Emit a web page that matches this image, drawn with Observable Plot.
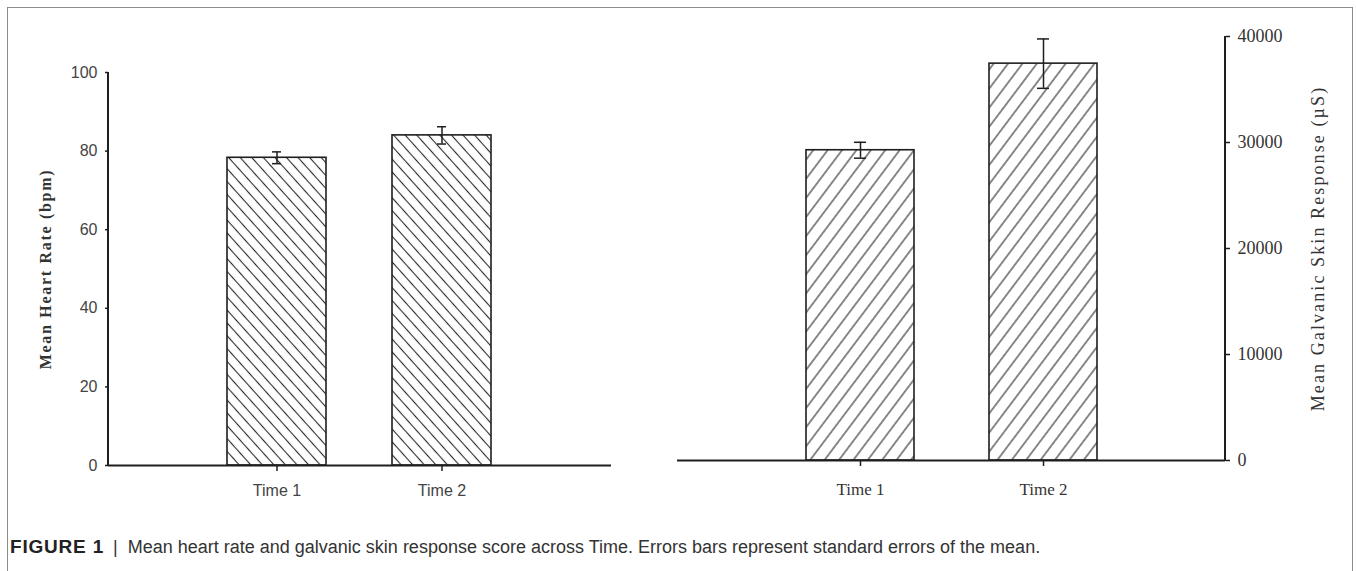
<!DOCTYPE html>
<html>
<head>
<meta charset="utf-8">
<script src="https://cdn.jsdelivr.net/npm/d3@7"></script>
<script src="https://cdn.jsdelivr.net/npm/@observablehq/plot@0.6"></script>
<style>
  html, body { margin: 0; padding: 0; background: #fff; }
  #wrap { position: relative; width: 1356px; height: 571px; overflow: hidden; background: #fff; }
  #frame { position: absolute; left: 7px; top: 7px; width: 1346px; height: 620px; border: 1px solid #8c8c8c; border-bottom: none; box-sizing: border-box; }
  #left { position: absolute; left: 0; top: 0; }
  #right { position: absolute; left: 660px; top: 0; }
  #caption { position: absolute; left: 10px; top: 536px; font-family: "Liberation Sans", Arial, sans-serif; font-size: 18px; color: #333; white-space: nowrap; }
  #caption b { color: #222; font-size: 19px; letter-spacing: 0.8px; }
  #caption .sep { margin: 0 10px 0 9px; }
</style>
</head>
<body>
<div id="wrap">
  <div id="frame"></div>
  <div id="left"></div>
  <div id="right"></div>
  <div id="caption"><b>FIGURE 1</b><span class="sep">|</span>Mean heart rate and galvanic skin response score across Time. Errors bars represent standard errors of the mean.</div>
</div>
<script>
// ---- data ----
const times = ["Time 1", "Time 2"];
const heartRate = [78.3, 84.0];
const heartRateSE = [1.5, 2.2];
const gsr = [29270, 37440];
const gsrSE = [750, 2330];
const hrTicks = [0, 20, 40, 60, 80, 100];
const gsrTicks = [0, 10000, 20000, 30000, 40000];

const hrData = times.map((t, i) => ({time: t, value: heartRate[i], lo: heartRate[i] - heartRateSE[i], hi: heartRate[i] + heartRateSE[i]}));
const gsrData = times.map((t, i) => ({time: t, value: gsr[i], lo: gsr[i] - gsrSE[i], hi: gsr[i] + gsrSE[i]}));

const ink = "#1e1e1e";

function addPattern(svg, id, angle, spacing) {
  const ns = "http://www.w3.org/2000/svg";
  const defs = document.createElementNS(ns, "defs");
  const p = document.createElementNS(ns, "pattern");
  p.setAttribute("id", id);
  p.setAttribute("patternUnits", "userSpaceOnUse");
  p.setAttribute("width", 20);
  p.setAttribute("height", spacing);
  p.setAttribute("patternTransform", `rotate(${angle})`);
  const r = document.createElementNS(ns, "rect");
  r.setAttribute("width", 20); r.setAttribute("height", spacing); r.setAttribute("fill", "#fff");
  const l = document.createElementNS(ns, "line");
  l.setAttribute("x1", 0); l.setAttribute("x2", 20);
  l.setAttribute("y1", spacing / 2); l.setAttribute("y2", spacing / 2);
  l.setAttribute("stroke", "#2a2a2a"); l.setAttribute("stroke-width", 1.1);
  p.appendChild(r); p.appendChild(l);
  defs.appendChild(p);
  svg.insertBefore(defs, svg.firstChild);
}

function yAxisLine(side) {
  return (index, scales, values, dims) => {
    const ns = "http://www.w3.org/2000/svg";
    const line = document.createElementNS(ns, "line");
    const x = side === "left" ? dims.marginLeft : dims.width - dims.marginRight;
    const [d0, d1] = scales.scales.y.domain;
    line.setAttribute("x1", x); line.setAttribute("x2", x);
    line.setAttribute("y1", scales.y(d0) + 1); line.setAttribute("y2", scales.y(d1));
    line.setAttribute("stroke", ink); line.setAttribute("stroke-width", 2);
    return line;
  };
}

// ---- left chart: heart rate ----
const left = Plot.plot({
  width: 660,
  height: 510,
  marginTop: 72,
  marginBottom: 45,
  marginLeft: 108,
  marginRight: 49,
  style: {background: "transparent", color: ink, overflow: "visible"},
  x: {domain: times, paddingInner: 0.398, paddingOuter: 0.717, label: null},
  y: {domain: [0, 100], label: null},
  marks: [
    Plot.barY(hrData, {x: "time", y: "value", fill: "url(#hatchL)", stroke: ink, strokeWidth: 1.6}),
    Plot.ruleX(hrData, {x: "time", y1: "lo", y2: "hi", stroke: ink, strokeWidth: 1.5}),
    Plot.tickY(hrData, {x: "time", y: "lo", stroke: ink, strokeWidth: 1.5, insetLeft: 45, insetRight: 45}),
    Plot.tickY(hrData, {x: "time", y: "hi", stroke: ink, strokeWidth: 1.5, insetLeft: 45, insetRight: 45}),
    Plot.ruleY([0], {stroke: ink, strokeWidth: 2}),
    yAxisLine("left"),
    Plot.axisY({ticks: hrTicks, tickSize: 3, tickPadding: 8, strokeWidth: 1.5, fontSize: 16, fill: "#444", fontFamily: "Liberation Sans, Arial, sans-serif", label: null}),
    Plot.axisX({tickSize: 6, tickPadding: 13, strokeWidth: 1.5, fontSize: 16, fill: "#444", fontFamily: "Liberation Sans, Arial, sans-serif", label: null}),
    Plot.text(["Mean Heart Rate (bpm)"], {frameAnchor: "left", textAnchor: "middle", dx: -63, rotate: -90, fontSize: 16, fontWeight: "bold", fontFamily: "Liberation Serif, Times New Roman, serif", fill: "#333", text: d => d, y: () => 50})
  ]
});
addPattern(left, "hatchL", 48, 8.6);
left.querySelectorAll("text").forEach(t => { if (t.textContent === "Mean Heart Rate (bpm)") t.setAttribute("letter-spacing", "1.7"); });
document.getElementById("left").appendChild(left);

// ---- right chart: galvanic skin response ----
const right = Plot.plot({
  width: 696,
  height: 505,
  marginTop: 36,
  marginBottom: 45,
  marginLeft: 17,
  marginRight: 131,
  style: {background: "transparent", color: ink, overflow: "visible"},
  x: {domain: times, paddingInner: 0.41, paddingOuter: 0.7, label: null},
  y: {domain: [0, 40000], label: null},
  marks: [
    Plot.barY(gsrData, {x: "time", y: "value", fill: "url(#hatchR)", stroke: ink, strokeWidth: 1.6}),
    Plot.ruleX(gsrData, {x: "time", y1: "lo", y2: "hi", stroke: ink, strokeWidth: 1.5}),
    Plot.tickY(gsrData, {x: "time", y: "lo", stroke: ink, strokeWidth: 1.5, insetLeft: 48, insetRight: 48}),
    Plot.tickY(gsrData, {x: "time", y: "hi", stroke: ink, strokeWidth: 1.5, insetLeft: 48, insetRight: 48}),
    Plot.ruleY([0], {stroke: ink, strokeWidth: 2}),
    yAxisLine("right"),
    Plot.axisY({anchor: "right", ticks: gsrTicks, tickFormat: d => String(d), tickSize: 4, tickPadding: 8, strokeWidth: 1.5, fontSize: 18, fill: "#333", fontFamily: "Liberation Serif, Times New Roman, serif", label: null}),
    Plot.axisX({tickSize: 6, tickPadding: 16, strokeWidth: 1.5, fontSize: 17, fill: "#333", fontFamily: "Liberation Serif, Times New Roman, serif", label: null}),
    Plot.text(["Mean Galvanic Skin Response (µS)"], {frameAnchor: "right", textAnchor: "middle", dx: 93, rotate: -90, fontSize: 18, fontFamily: "Liberation Serif, Times New Roman, serif", fill: "#333", text: d => d, y: () => 20000})
  ]
});
addPattern(right, "hatchR", -53, 11.5);
right.querySelectorAll("text").forEach(t => { if (t.textContent === "Mean Galvanic Skin Response (µS)") t.setAttribute("letter-spacing", "2.1"); });
document.getElementById("right").appendChild(right);
</script>
</body>
</html>
